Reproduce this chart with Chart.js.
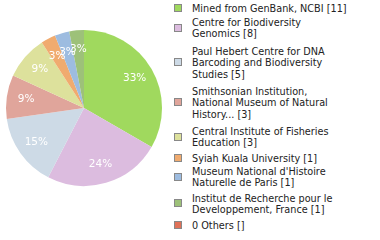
<!DOCTYPE html>
<html><head><meta charset="utf-8">
<script src="https://cdn.jsdelivr.net/npm/chart.js@4/dist/chart.umd.min.js"></script>
<style>
html,body{margin:0;padding:0;background:#fff;}
#wrap{position:relative;width:380px;height:240px;overflow:hidden;}
#cv{position:absolute;left:0;top:0;}
.item{position:absolute;left:174px;width:200px;font-family:"DejaVu Sans";font-size:9.7px;line-height:11.3px;color:#222;}
.sw{position:absolute;left:0;width:6px;height:6px;border:1px solid #888;}
.tx{position:absolute;left:18px;width:185px;white-space:pre;}
</style></head>
<body><div id="wrap"><canvas id="cv" width="168" height="216"></canvas><div id="leg"></div></div>
<script>
const categories = ["Mined from GenBank, NCBI","Centre for Biodiversity\nGenomics","Paul Hebert Centre for DNA\nBarcoding and Biodiversity\nStudies","Smithsonian Institution,\nNational Museum of Natural\nHistory...","Central Institute of Fisheries\nEducation","Syiah Kuala University","Museum National d'Histoire\nNaturelle de Paris","Institut de Recherche pour le\nDeveloppement, France","0 Others"];
const counts = [11,8,5,3,3,1,1,1,0];
const countLabels = ["11","8","5","3","3","1","1","1",""];
const colors = ["#a0d95e","#dcbcdf","#cddae6","#e0a59b","#dde19c","#f0ab6f","#9dbce0","#9dc179","#e07158"];
const legendTops = [9,22.7,51.7,91.7,131.7,158.3,171.7,198.3,225.3];

const leg = document.getElementById('leg');
categories.forEach((c,i)=>{
  const d=document.createElement('div');d.className='item';
  const lh=11.3;
  const nLines=c.split('\n').length;
  d.style.top=(legendTops[i]-lh/2)+'px';
  const h=nLines*lh;
  const sw=document.createElement('div');sw.className='sw';sw.style.background=colors[i];
  sw.style.top=(h/2-4.5)+'px';
  const t=document.createElement('div');t.className='tx';t.textContent=c+' ['+countLabels[i]+']';
  d.appendChild(sw);d.appendChild(t);leg.appendChild(d);
});

const pctPlugin={id:'pct',afterDatasetsDraw(chart){
  const ctx=chart.ctx;const meta=chart.getDatasetMeta(0);
  const total=counts.reduce((a,b)=>a+b,0);
  ctx.save();ctx.fillStyle='#fff';ctx.font='10.5px "DejaVu Sans"';ctx.textAlign='center';ctx.textBaseline='middle';
  meta.data.forEach((arc,i)=>{
    if(!counts[i])return;
    const p=arc.getProps(['x','y','startAngle','endAngle','outerRadius'],true);
    const a=(p.startAngle+p.endAngle)/2;const r=p.outerRadius*0.75;
    ctx.fillText(Math.round(counts[i]/total*100)+'%',p.x+Math.cos(a)*r,p.y+Math.sin(a)*r);
  });
  ctx.restore();
}};

new Chart(document.getElementById('cv'),{
  type:'pie',
  data:{labels:categories,datasets:[{data:counts,backgroundColor:colors,borderWidth:0}]},
  options:{responsive:false,animation:false,layout:{padding:6},
    plugins:{legend:{display:false},tooltip:{enabled:false}}},
  plugins:[pctPlugin]
});
</script></body></html>
